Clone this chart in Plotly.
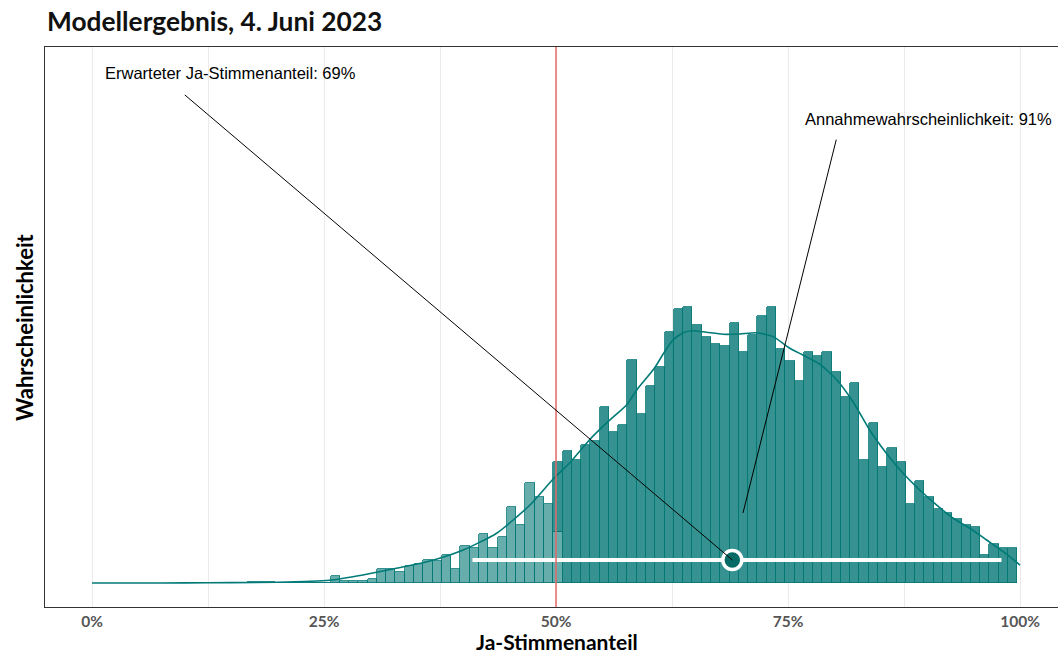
import plotly.graph_objects as go

# Simulated Ja-Stimmenanteil: counts per 1%-bin (bins start at k-0.3)
lower_bins = list(range(17, 51))
lower_counts = [1, 1, 1, 0, 0, 1, 1, 0, 0, 8, 3, 3, 2, 5, 16, 16, 12, 19, 21, 26,
                24, 31, 16, 41, 39, 54, 39, 51, 84, 64, 110, 95, 87, 56]
upper_bins = list(range(50, 100))
upper_counts = [77, 145, 135, 151, 156, 193, 166, 173, 245, 185, 216, 237, 275, 300,
                303, 283, 270, 262, 260, 285, 253, 272, 293, 303, 257, 243, 222, 253,
                249, 253, 231, 204, 219, 135, 176, 127, 148, 133, 87, 112, 95, 81, 77,
                70, 64, 62, 31, 43, 39, 39]
BIN_OFFSET = 0.2  # bin centre relative to integer label

# Smoothed density, scaled to bin counts
dens_x = [0, 5, 10, 15, 20, 25.6, 29.2, 32.8, 36.4, 40, 43.6, 47.2, 49.6, 51.6, 53.6,
          55.6, 57.6, 58.7, 60.6, 61.6, 62.6, 63.7, 64.7, 66.2, 68, 69.8, 71.6, 73.4,
          75.2, 76.6, 78.4, 80.2, 82, 83.8, 85.6, 87.4, 89.2, 91, 92.8, 94.6, 96.4,
          98.2, 100]
dens_y = [0.3, 0.3, 0.4, 0.7, 1.1, 3.3, 9.1, 16.4, 24.4, 36.5, 54.8, 85.8, 113.2, 133.2,
          157.0, 177.0, 195.3, 211.8, 235.5, 252.0, 266.5, 274.5, 276.7, 275.0, 272.8,
          273.1, 274.5, 270.2, 257.4, 250.1, 240.2, 223.5, 198.9, 167.9, 142.4, 120.5,
          102.2, 85.8, 71.2, 60.3, 47.4, 34.6, 20.0]

expected_share = 69
interval = [41, 98]
interval_level = 25.5
threshold = 50
acceptance = 91

tick_vals = [0, 25, 50, 75, 100]
tick_text = ["0%", "25%", "50%", "75%", "100%"]

TEAL = "2,119,116"
FONT = "Lato"

W, H = 1058, 655
ML, MR, MT, MB = 45, 0, 47, 48
pw, ph = W - ML - MR, H - MT - MB

fig = go.Figure()
fig.add_trace(go.Bar(
    x=[k + BIN_OFFSET for k in lower_bins], y=lower_counts, width=1,
    marker=dict(color=f"rgba({TEAL},0.6)", line=dict(color=f"rgb({TEAL})", width=0.8)),
    hoverinfo="skip", showlegend=False))
fig.add_trace(go.Bar(
    x=[k + BIN_OFFSET for k in upper_bins], y=upper_counts, width=1,
    marker=dict(color=f"rgba({TEAL},0.8)", line=dict(color=f"rgb({TEAL})", width=0.8)),
    hoverinfo="skip", showlegend=False))
fig.add_trace(go.Scatter(
    x=dens_x, y=dens_y, mode="lines",
    line=dict(color="#007a77", width=1.6, shape="spline", smoothing=0.6),
    hoverinfo="skip", showlegend=False))
fig.add_trace(go.Scatter(
    x=interval, y=[interval_level, interval_level], mode="lines",
    line=dict(color="white", width=4), hoverinfo="skip", showlegend=False))
fig.add_trace(go.Scatter(
    x=[expected_share], y=[interval_level], mode="markers",
    marker=dict(size=19, color="#066b65", line=dict(color="white", width=3.5)),
    hoverinfo="skip", showlegend=False))

# threshold line
fig.add_shape(type="line", x0=threshold, x1=threshold, y0=0, y1=1, yref="paper",
              line=dict(color="#e46a6a", width=1.5), layer="above")

# annotation leaders
fig.add_shape(type="line", x0=10.0, y0=535, x1=expected_share, y1=interval_level,
              line=dict(color="black", width=1), layer="above")
fig.add_shape(type="line", x0=80.2, y0=486, x1=70.15, y1=77,
              line=dict(color="black", width=1), layer="above")

fig.add_annotation(x=1.2, y=559, text=f"Erwarteter Ja-Stimmenanteil: {expected_share}%",
                   showarrow=False, xanchor="left", yanchor="middle",
                   font=dict(family="Liberation Sans", size=16.5, color="black"))
fig.add_annotation(x=90.1, y=509, text=f"Annahmewahrscheinlichkeit: {acceptance}%",
                   showarrow=False, xanchor="center", yanchor="middle",
                   font=dict(family="Liberation Sans", size=16.5, color="black"))

# axis titles, placed in paper coordinates
fig.add_annotation(xref="paper", yref="paper", x=(557 - ML) / pw, y=(H - MB - 641) / ph,
                   text="Ja-Stimmenanteil", showarrow=False,
                   xanchor="center", yanchor="middle",
                   font=dict(family=FONT, size=21, color="black", weight="bold"))
fig.add_annotation(xref="paper", yref="paper", x=(24 - ML) / pw, y=(H - MB - 327) / ph,
                   text="Wahrscheinlichkeit", textangle=-90, showarrow=False,
                   xanchor="center", yanchor="middle",
                   font=dict(family=FONT, size=22, color="black", weight="bold"))

fig.update_layout(
    width=W, height=H, barmode="stack", bargap=0,
    margin=dict(l=ML, r=MR, t=MT, b=MB, pad=0),
    plot_bgcolor="white", paper_bgcolor="white",
    title=dict(text="Modellergebnis, 4. Juni 2023", x=47 / W, xanchor="left",
               xref="container", yref="container", y=1 - 22 / H, yanchor="middle",
               font=dict(family=FONT, size=26.3, color="#111111", weight="bold")),
)
fig.update_xaxes(
    range=[(ML - 92) / 9.28, (W - 92) / 9.28],
    tickvals=tick_vals, ticktext=tick_text, ticks="",
    tickfont=dict(family=FONT, size=15.5, color="#555555", weight="bold"),
    showgrid=True, gridcolor="#ebebeb", gridwidth=1,
    minor=dict(tickvals=[12.5, 37.5, 62.5, 87.5], showgrid=True, gridcolor="#ebebeb", gridwidth=1),
    showline=True, linecolor="#333333", linewidth=1, mirror=True, zeroline=False,
)
fig.update_yaxes(
    range=[-26, 587.5], showticklabels=False, ticks="", showgrid=False, zeroline=False,
    showline=True, linecolor="#333333", linewidth=1, mirror=False,
)

fig.write_html("out.html")
